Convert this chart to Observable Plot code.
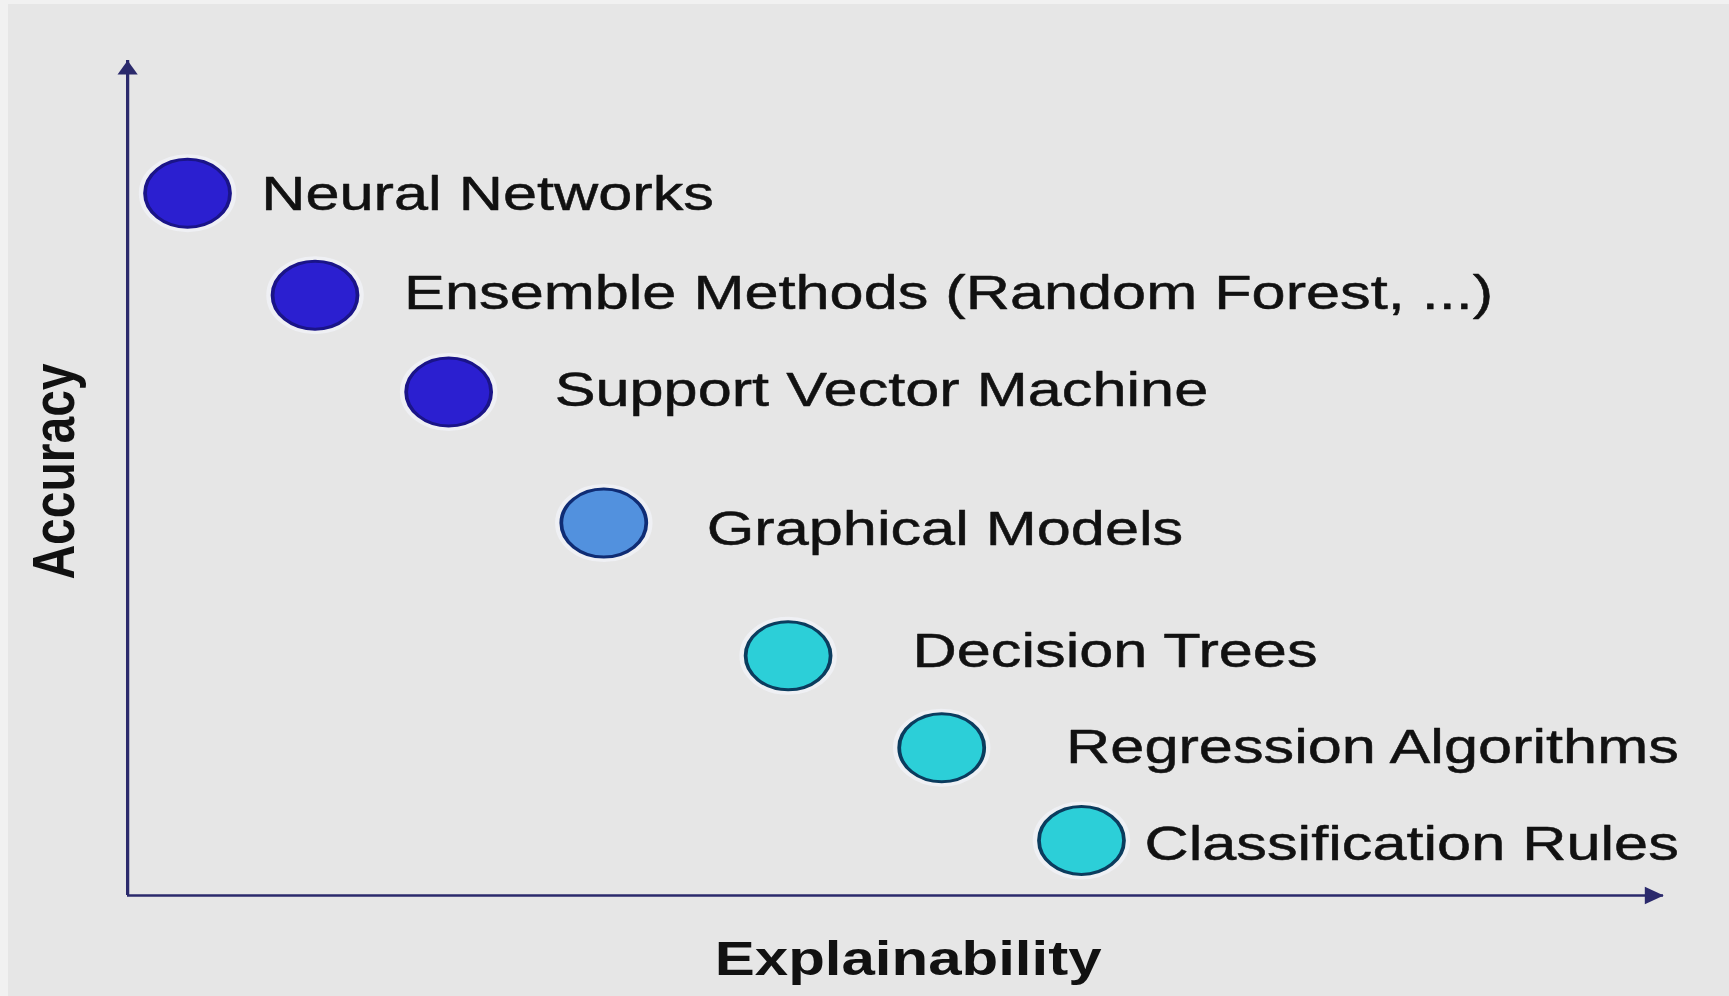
<!DOCTYPE html>
<html>
<head>
<meta charset="utf-8">
<script src="https://cdn.jsdelivr.net/npm/d3@7"></script>
<script src="https://cdn.jsdelivr.net/npm/@observablehq/plot@0.6"></script>
<style>
  html, body { margin: 0; padding: 0; }
  body {
    width: 1729px; height: 996px; overflow: hidden;
    background:
      linear-gradient(to right, #f1f1f1 8px, rgba(0,0,0,0) 8px),
      linear-gradient(#f1f1f1 4px, #e6e6e6 4px);
  }
  #chart svg { display: block; }
</style>
</head>
<body>
<div id="chart"></div>
<script>
// ---- data ----
const methods = [
  "Neural Networks",
  "Ensemble Methods (Random Forest, ...)",
  "Support Vector Machine",
  "Graphical Models",
  "Decision Trees",
  "Regression Algorithms",
  "Classification Rules"
];
// position of each method on the (unitless) explainability / accuracy plane
const explainability = [0.39, 1.22, 2.09, 3.10, 4.30, 5.30, 6.21];
const accuracy       = [8.41, 7.19, 6.03, 4.46, 2.87, 1.77, 0.66];
// where each label starts / sits on the same plane
const labelExplainability = [0.87, 1.80, 2.78, 3.77, 5.11, 6.11, 6.62];
const labelAccuracy       = [8.40, 7.21, 6.05, 4.38, 2.92, 1.77, 0.61];
// colour tier of each method
const tiers = ["deep", "deep", "deep", "medium", "light", "light", "light"];
const tierNames   = ["deep", "medium", "light"];
const tierFills   = ["#2b1fd0", "#5291de", "#2ccfd8"];
const tierStrokes = ["#1a1488", "#0f2c74", "#0b3c5e"];
const axisTitles = {x: "Explainability", y: "Accuracy"};
const axisExtent = [0, 10];

// ---- build table ----
const data = methods.map((name, i) => ({
  name,
  x: explainability[i],
  y: accuracy[i],
  lx: labelExplainability[i],
  ly: labelAccuracy[i],
  fill: tierFills[tierNames.indexOf(tiers[i])],
  stroke: tierStrokes[tierNames.indexOf(tiers[i])]
}));

const W = 1729, H = 996, k = 1.25; // the reference is stretched horizontally
const axisColor = "#2b2a6c";
const textColor = "#111111";
const font = "'Liberation Sans', Arial, Helvetica, sans-serif";

const chart = Plot.plot({
  width: W / k,
  height: H,
  marginLeft: 127 / k,
  marginRight: (W - 1663) / k,
  marginTop: 60,
  marginBottom: 101,
  x: {domain: axisExtent, axis: null},
  y: {domain: axisExtent, axis: null},
  style: {background: "transparent", fontFamily: font, overflow: "visible"},
  marks: [
    // axes
    Plot.ruleX([axisExtent[0]], {y1: axisExtent[0], y2: axisExtent[1], stroke: axisColor, strokeWidth: 2.6}),
    Plot.ruleY([axisExtent[0]], {x1: axisExtent[0], x2: axisExtent[1], stroke: axisColor, strokeWidth: 2.6}),
    Plot.dot([{x: axisExtent[0], y: axisExtent[1]}], {x: "x", y: "y", symbol: "triangle", r: 6, fill: axisColor, stroke: "none", dy: 9.3}),
    Plot.dot([{x: axisExtent[1], y: axisExtent[0]}], {x: "x", y: "y", symbol: "triangle", r: 6.5, rotate: 90, fill: axisColor, stroke: "none", dx: -10}),
    // soft halo
    Plot.dot(data, {x: "x", y: "y", r: 37, fill: "none", stroke: "#f6f8ff", strokeWidth: 4, strokeOpacity: 0.55}),
    // bubbles
    Plot.dot(data, {x: "x", y: "y", r: 34, fill: "fill", stroke: "stroke", strokeWidth: 3}),
    // labels
    Plot.text(data, {x: "lx", y: "ly", text: "name", textAnchor: "start", lineAnchor: "middle", fontSize: 49, fill: textColor, stroke: textColor, strokeWidth: 0.5}),
    // axis titles
    Plot.text([axisTitles.x], {text: d => d, frameAnchor: "bottom", textAnchor: "middle", lineAnchor: "middle", dx: 10, dy: 64, fontSize: 48, fontWeight: "bold", fill: textColor}),
    Plot.text([axisTitles.y], {text: d => d, frameAnchor: "left", textAnchor: "middle", lineAnchor: "middle", rotate: -90, dx: -58, dy: -6.5, fontSize: 48, fontWeight: "bold", fill: textColor})
  ]
});

chart.setAttribute("preserveAspectRatio", "none");
chart.style.width = W + "px";
chart.style.height = H + "px";
chart.style.maxWidth = "none";
document.getElementById("chart").appendChild(chart);
</script>
</body>
</html>
